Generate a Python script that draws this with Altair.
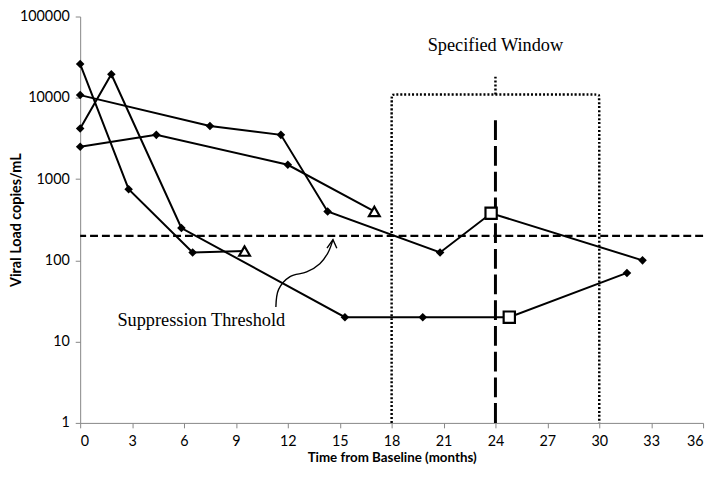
import altair as alt
import pandas as pd

# ---- data ----
s1_t = [0, 2.8, 6.5, 9.5]
s1_v = [26000, 750, 125, 130]
s1_m = ["diamond", "diamond", "diamond", "triangle"]

s2_t = [0, 1.8, 5.85, 15.3, 19.8, 24.8, 31.6]
s2_v = [4200, 19500, 250, 20, 20, 20, 70]
s2_m = ["diamond", "diamond", "diamond", "diamond", "diamond", "square", "diamond"]

s3_t = [0, 7.5, 11.6, 14.3, 20.8, 23.75, 32.5]
s3_v = [10800, 4500, 3500, 400, 125, 380, 100]
s3_m = ["diamond", "diamond", "diamond", "diamond", "diamond", "square", "diamond"]

s4_t = [0, 4.4, 12, 17]
s4_v = [2500, 3500, 1500, 400]
s4_m = ["diamond", "diamond", "diamond", "triangle"]

threshold = 200
window_start, window_mid, window_end = 18, 24, 30
bracket_top = 11000
bracket_corner_v = 9800
bracket_corner_t = 0.2
bracket_tick_top = 18500
mid_line_top = 6200

x_ticks = list(range(0, 37, 3))
y_ticks = [1, 10, 100, 1000, 10000, 100000]

label_specified = "Specified Window"
label_specified_pos = (24, 44000)
label_suppr = "Suppression Threshold"
label_suppr_pos = (7, 18.5)

curve_t = [11.31, 11.47, 12.13, 13.09, 13.85, 14.33, 14.61]
curve_v = [26.7, 44, 63, 72, 91, 125, 180]

# ---- tables ----
rows = []
for name, ts, vs, ms in [("A", s1_t, s1_v, s1_m), ("B", s2_t, s2_v, s2_m),
                         ("C", s3_t, s3_v, s3_m), ("D", s4_t, s4_v, s4_m)]:
    for i, (t, v, m) in enumerate(zip(ts, vs, ms)):
        rows.append({"series": name, "t": t, "v": v, "o": i, "m": m})
df = pd.DataFrame(rows)

b_t = [window_start, window_start, window_start, window_start + bracket_corner_t,
       window_end - bracket_corner_t, window_end, window_end, window_end]
b_v = [1, bracket_corner_v, bracket_top, bracket_top, bracket_top, bracket_top,
       bracket_corner_v, 1]
bracket = pd.DataFrame({"t": b_t, "v": b_v, "o": list(range(len(b_t)))})
tick_df = pd.DataFrame({"t": [window_mid], "v": [bracket_top], "v2": [bracket_tick_top]})
mid_df = pd.DataFrame({"t": [window_mid], "v": [1], "v2": [mid_line_top]})
thr_df = pd.DataFrame({"v": [threshold]})
curve_df = pd.DataFrame({"t": curve_t, "v": curve_v, "o": list(range(len(curve_t)))})
tip_df = pd.DataFrame({"t": [curve_t[-1]], "v": [curve_v[-1]]})
txt_df = pd.DataFrame({
    "t": [label_specified_pos[0], label_suppr_pos[0]],
    "v": [label_specified_pos[1], label_suppr_pos[1]],
    "label": [label_specified, label_suppr],
})

xs = alt.Scale(domain=[0, 36], nice=False, zero=False)
ys = alt.Scale(type="log", domain=[1, 100000], nice=False)

xaxis = alt.Axis(values=x_ticks, grid=False, title="Time from Baseline (months)",
                 domainColor="#868686", tickColor="#868686", tickSize=5,
                 labelFont="Lato", labelFontSize=14.5, labelColor="black",
                 labelPadding=7, titleFont="Lato", titleFontSize=13.5,
                 titleFontWeight="bold", titleColor="black", titlePadding=3)
yaxis = alt.Axis(values=y_ticks, format="d", grid=False, title="Viral Load copies/mL",
                 domainColor="#868686", tickColor="#868686", tickSize=5,
                 labelFont="Lato", labelFontSize=14.5, labelColor="black",
                 labelPadding=6, titleFont="Lato", titleFontSize=14.5,
                 titleFontWeight="bold", titleColor="black", titleX=-57)

X = alt.X("t:Q", scale=xs, axis=xaxis)
Y = alt.Y("v:Q", scale=ys, axis=yaxis)

base = alt.Chart(df)

lines = base.mark_line(color="black", strokeWidth=2).encode(
    x=X, y=Y, detail="series:N", order="o:Q")

diamonds = base.transform_filter(alt.datum.m == "diamond").mark_point(
    shape="diamond", filled=True, color="black", size=75, opacity=1).encode(x=X, y=Y)
triangles = base.transform_filter(alt.datum.m == "triangle").mark_point(
    shape="triangle-up", filled=True, fill="white", stroke="black", strokeWidth=2.2,
    size=120, opacity=1).encode(x=X, y=Y)
squares = base.transform_filter(alt.datum.m == "square").mark_point(
    shape="square", filled=True, fill="white", stroke="black", strokeWidth=2.2,
    size=130, opacity=1).encode(x=X, y=Y)

thr = alt.Chart(thr_df).mark_rule(color="black", strokeWidth=2.5,
                                  strokeDash=[8, 4]).encode(y=Y)
brk = alt.Chart(bracket).mark_line(color="black", strokeWidth=2.5, strokeDash=[2, 2],
                                   interpolate="basis").encode(x=X, y=Y, order="o:Q")
btick = alt.Chart(tick_df).mark_rule(color="black", strokeWidth=2.5,
                                     strokeDash=[2, 2]).encode(x=X, y=Y, y2="v2:Q")
mid = alt.Chart(mid_df).mark_rule(color="black", strokeWidth=3,
                                  strokeDash=[20, 6]).encode(x=X, y=Y, y2="v2:Q")
curve = alt.Chart(curve_df).mark_line(color="black", strokeWidth=1.4,
                                      interpolate="catmull-rom").encode(x=X, y=Y, order="o:Q")
tip = alt.Chart(tip_df).mark_point(shape="M -0.7 1 L 0 0 L 0.45 1", filled=False,
                                   color="black", strokeWidth=1.4, size=300,
                                   opacity=1).encode(x=X, y=Y)
txt = alt.Chart(txt_df).mark_text(font="Liberation Serif", fontSize=18.5, color="black",
                                  align="center", baseline="middle").encode(
    x=X, y=Y, text="label:N")

chart = alt.layer(mid, brk, btick, thr, lines, curve, tip, diamonds, triangles,
                  squares, txt).properties(
    width=630, height=411,
    autosize=alt.AutoSizeParams(type="none"),
    padding={"left": 73, "top": 6, "right": 7, "bottom": 44},
    background="white",
).configure_view(stroke=None)

chart.save("out.html", embed_options={"renderer": "svg", "actions": False})
